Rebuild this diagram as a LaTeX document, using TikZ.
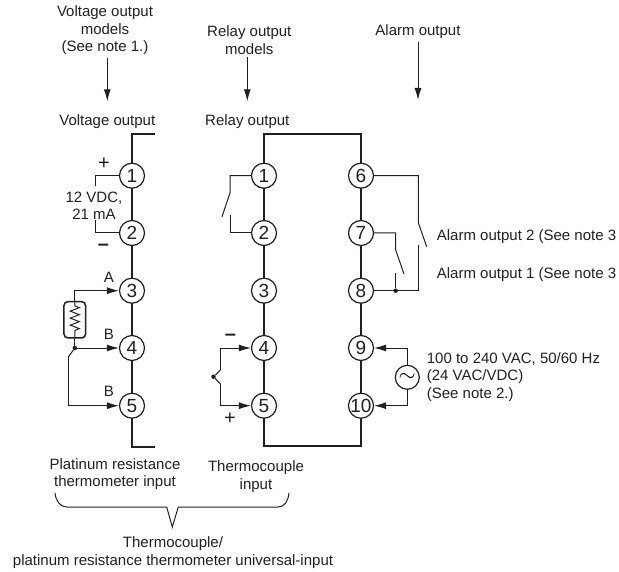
\documentclass[tikz,border=0pt]{standalone}
\usepackage{fontspec}
\setmainfont{Liberation Sans}
\usetikzlibrary{arrows.meta,decorations.pathmorphing}
\definecolor{ink}{HTML}{231F20}
\tikzset{
  term/.style={circle,draw=ink,fill=white,line width=1.2pt,minimum size=25pt,inner sep=0pt,text=ink,font=\fontsize{19}{19}\selectfont},
  lbl/.style={inner sep=0pt,yshift=-1.5pt,text=ink,align=center,font=\fontsize{15}{17.4}\selectfont},
  lblleft/.style={lbl,anchor=west,align=left},
  sign/.style={inner sep=0pt,text=ink,font=\fontsize{20}{20}\selectfont},
  bus/.style={draw=ink,line width=2pt,line cap=rect},
  wire/.style={draw=ink,line width=1pt},
  feed/.style={wire,-{Latex[length=12pt,width=7pt]}},
  drop/.style={feed,shorten <=3pt,shorten >=13pt},
  joint/.style={circle,fill=ink,minimum size=4.5pt,inner sep=0pt},
}
\begin{document}
\begin{tikzpicture}[x=1pt,y=-1pt]
  \useasboundingbox (0,0) rectangle (619,572);
  \draw
    (132,175.7) node[term] (v1){1}
    (132,233) node[term] (v2){2}
    (132,290.7) node[term] (v3){3}
    (132,348) node[term] (v4){4}
    (132,405.7) node[term] (v5){5}
    (264,175.7) node[term] (r1){1}
    (264,233) node[term] (r2){2}
    (264,290.7) node[term] (r3){3}
    (264,348) node[term] (r4){4}
    (264,405.7) node[term] (r5){5}
    (361,175.7) node[term] (a6){6}
    (361,233) node[term] (a7){7}
    (361,290.7) node[term] (a8){8}
    (361,348) node[term] (a9){9}
    (361,405.7) node[term] (a10){10};
  \node[lbl] (vmodel) at (105,28.7) {Voltage output\\models\\(See note 1.)};
  \node[lbl] (rmodel) at (249.3,38.5) {Relay output\\models};
  \node[lbl] (amodel) at (418,30) {Alarm output};
  \node[lbl] (vout) at (107.3,120) {Voltage output};
  \node[lbl] (rout) at (247.3,120) {Relay output};
  \node[lbl] (vdc) at (94,204.5) {12 VDC,\\21 mA};
  \node[lbl] (la) at (109,276) {A};
  \node[lbl] (lb4) at (109,333) {B};
  \node[lbl] (lb5) at (109,390) {B};
  \node[lblleft] (al2) at (436.7,235) {Alarm output 2 (See note 3};
  \node[lblleft] (al1) at (436.7,272.7) {Alarm output 1 (See note 3};
  \node[lblleft] (power) at (426.7,375.5) {100 to 240 VAC, 50/60 Hz\\(24 VAC/VDC)\\(See note 2.)};
  \node[lbl] (ptinput) at (115,472.5) {Platinum resistance\\thermometer input};
  \node[lbl] (tcinput) at (256,475) {Thermocouple\\input};
  \node[lbl] (univ) at (173,551) {Thermocouple/\\platinum resistance thermometer universal-input};
  \node[sign] (vplus) at (104,164) {+};
  \node[sign] (vminus) at (103.5,247) {\bfseries –};
  \node[sign] (rminus) at (230.5,337) {\bfseries –};
  \node[sign] (rplus) at (230,419) {+};
  \node[draw=ink,line width=1.5pt,rounded corners=4pt,minimum width=21.7pt,minimum height=36.3pt,inner sep=0pt] (rtd) at (74.8,319.8) {};
  \node[joint] (vj) at (74.8,348) {};
  \node[joint] (rj) at (213.5,376.7) {};
  \node[joint] (aj) at (395.7,290.7) {};
  \node[circle,draw=ink,line width=1.2pt,minimum size=24pt,inner sep=0pt] (ac) at (407.3,377.3) {\scalebox{2.2}{$\sim$}};
  \coordinate (vtop) at (154,134.5);
  \coordinate (vbot) at (154,446.7);
  \coordinate (rtop) at (264,134.5);
  \coordinate (rbot) at (264,446);
  \coordinate (vnote) at (95.7,186);
  \coordinate (vnote2) at (95.7,220);
  \coordinate (vbend) at (68.3,357);
  \coordinate (sw1a) at (230,193);
  \coordinate (sw1b) at (222,216.7);
  \coordinate (sw1c) at (230,215);
  \coordinate (tc1) at (220.5,370);
  \coordinate (tc2) at (220.5,384);
  \coordinate (sw2a) at (418.3,222.7);
  \coordinate (sw2b) at (426.7,246.7);
  \coordinate (sw2c) at (418.3,245);
  \coordinate (sw3a) at (395.7,250);
  \coordinate (sw3b) at (404,274);
  \coordinate (sw3c) at (395.7,272.7);
  \coordinate (alarrow) at (418,100);
  \coordinate (b1) at (55,493);
  \coordinate (b2) at (66.7,507);
  \coordinate (b3) at (166.7,507);
  \coordinate (b4) at (172.3,527);
  \coordinate (b5) at (178.3,507);
  \coordinate (b6) at (278,507);
  \coordinate (b7) at (289,493);
  \begin{scope}[bus]
    \draw (vtop) -| (v1);
    \draw (v1) to (v2);
    \draw (v2) to (v3);
    \draw (v3) to (v4);
    \draw (v4) to (v5);
    \draw (vbot) -| (v5);
    \draw (r1) |- (rtop) -| (a6);
    \draw (r1) to (r2);
    \draw (r2) to (r3);
    \draw (r3) to (r4);
    \draw (r4) to (r5);
    \draw (r5) |- (rbot) -| (a10);
    \draw (a6) to (a7);
    \draw (a7) to (a8);
    \draw (a8) to (a9);
    \draw (a9) to (a10);
  \end{scope}
  \begin{scope}[wire]
    \draw (v1) -| (vnote);
    \draw (v2) -| (vnote2);
    \draw (rtd.south) to (vj);
    \draw (vj) to (vbend);
    \draw (r1) -| (sw1a) -- (sw1b);
    \draw (r2) -| (sw1c);
    \draw (rj) -- (tc1);
    \draw (rj) -- (tc2);
    \draw (a6) -| (sw2a) -- (sw2b);
    \draw (a8) -| (sw2c);
    \draw (a7) -| (sw3a) -- (sw3b);
    \draw (aj) to (sw3c);
    \draw[decorate,decoration={zigzag,segment length=7pt,amplitude=4.5pt,pre length=5pt,post length=5pt}] (rtd.north) -- (rtd.south);
    \draw (b1) .. controls (56,501) and (60,507) .. (b2) -- (b3) -- (b4) -- (b5) -- (b6) .. controls (285,507) and (288,501) .. (b7);
  \end{scope}
  \begin{scope}[feed]
    \draw (rtd.north) |- (v3);
    \draw (vj) to (v4);
    \draw (vbend) |- (v5);
    \draw (tc1) |- (r4);
    \draw (tc2) |- (r5);
    \draw (ac.north) |- (a9);
    \draw (ac.south) |- (a10);
  \end{scope}
  \begin{scope}[drop]
    \draw (vmodel.south -| vout.north) to (vout.north);
    \draw (rmodel.south -| rout.north) to (rout.north);
  \end{scope}
  \draw[feed,shorten <=3pt] (amodel.south) to (alarrow);
\end{tikzpicture}
\end{document}
